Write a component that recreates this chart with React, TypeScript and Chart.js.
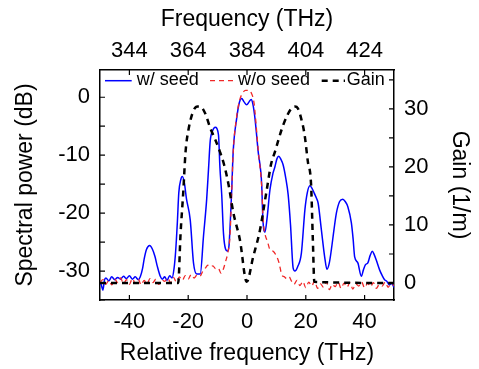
import React, { useEffect, useRef } from 'react';
import { Chart, registerables } from 'chart.js';

Chart.register(...registerables);

// ---- data ----
const seedFreq = [
  -50, -49.5, -49, -48.5, -48, -47, -46, -45, -44, -43, -42, -41, -40, -39, -38, -37, -36.3,
  -35.5, -35, -34.2, -33.1, -32.2, -31.3, -30.5, -29.5, -28.8, -28, -27.2, -26.3, -25.5, -24.8,
  -24.3, -23.7, -23.2, -22.5, -22, -21.3, -20.6, -19.3, -18.2, -17.1, -15.9, -14.8, -13.7, -13.1,
  -12.5, -11.7, -10.8, -9.7, -9.2, -8.6, -8, -7.3, -6.6, -6.1, -5.7, -5.2, -4.7, -3.5, -2.6, -1.8,
  -1.0, -0.1, 0.7, 1.4, 2.0, 2.7, 3.8, 5.0, 5.4, 6.1, 6.8, 7.8, 8.8, 9.5, 10.2, 10.8, 11.5, 12.3,
  13.2, 14.0, 14.8, 15.7, 16.3, 17.2, 18.5, 19.7, 20.5, 21.4, 22.2, 22.9, 23.6, 24.2, 25.3, 26.4,
  27.2, 28.0, 28.7, 29.6, 30.4, 31.5, 32.6, 33.4, 34.3, 35.5, 36.1, 36.6, 37.7, 38.9, 39.6, 40.3,
  41.1, 41.9, 42.6, 43.3, 43.9, 45.1, 46.0, 46.8, 47.6, 48.5, 49.2, 50,
];
const seedPower = [
  -31.8, -32.5, -33.3, -31.6, -31.2, -31.7, -31.0, -31.5, -31.1, -31.4, -30.9, -31.3, -30.8, -31.4, -31.0, -31.5, -31.0,
  -29.5, -28, -26.3, -25.6, -26.2, -27.5, -29.2, -30.9, -31.4, -31.0, -31.6, -30.8, -31.2, -29.5,
  -26.8, -21.7, -16.5, -14.2, -13.7, -14.8, -17.5, -21.2, -28.6, -30.5, -30.5, -24, -17.5, -12.5,
  -7.5, -5.8, -5.2, -6.5, -12.2, -16.8, -23.5, -26.2, -26.6, -25.5, -21.7, -16, -9.4, -3.6, -0.9, -0.2,
  -0.8, -1.3, -0.8, -0.4, -1.2, -3.6, -9.4, -15.1, -21, -23.3, -21, -16, -13.2, -12.0, -10.6, -10.2, -10.7, -11.7,
  -14, -16.8, -22, -29.5, -30, -29.3, -26.9, -19.4, -16.5, -15.3, -15.8, -16.6, -17.4, -18.3, -22.9, -27.5,
  -29.7, -28.6, -26.3, -22.8, -20, -18, -17.6, -18.0, -18.9, -21.7, -24.5, -27.5, -28.6, -30.9, -29.8, -28.9,
  -28.6, -27.3, -26.6, -27.2, -28, -29.8, -30.8, -31.5, -31.8, -32.4, -32.1, -32.8,
];

const noSeedFreq = [
  -50, -49, -48, -47, -46, -45, -44, -43, -42, -41, -40, -39, -38, -37, -36, -35, -34, -33, -32, -31,
  -30, -29, -28, -27, -26, -25, -24, -23, -22, -21, -20, -19, -18, -17, -16, -15, -14.2, -13.3, -12.5,
  -11.6, -10.7, -9.8, -8.8, -8.0, -7.2, -6.5, -5.8, -5.2, -4.7, -3.5, -2.5, -1.5, -0.5, 0.5, 1.5, 2.4,
  2.9, 3.9, 5.0, 5.5, 6.2, 6.9, 7.8, 8.9, 10.0, 10.9, 11.8, 12.7, 13.5, 14.3, 15.2, 16, 17, 18, 19, 20,
  21, 22, 23, 24, 25, 26, 27, 28, 29, 30, 31, 32, 33, 34, 35, 36, 37, 38, 39, 40, 41, 42, 43, 44, 45,
  46, 47, 48, 49, 50,
];
const noSeedPower = [
  -32.0, -31.5, -32.3, -31.6, -32.4, -31.4, -32.0, -31.2, -32.2, -31.5, -32.3, -31.3, -32.1, -31.4, -32.4, -31.6, -32.2, -31.3, -32.0, -31.4,
  -32.3, -31.5, -31.8, -31.2, -32.0, -31.1, -31.9, -31.0, -31.6, -30.8, -31.4, -30.6, -31.2, -30.7, -30.9, -30.0, -29.5, -29.0, -29.3,
  -29.1, -29.6, -29.5, -30.4, -29.6, -28.2, -26.8, -24, -16.5, -9.6, -3.3, -0.5, 0.7, 1.2, 1.2, 0.7, -1.0,
  -3.6, -9.6, -15.4, -21.2, -23.8, -24.8, -26.3, -26.6, -27.4, -28.6, -30.6, -31.0, -31.3, -31.0, -31.8, -32.3, -31.6, -32.5, -31.8, -32.9,
  -31.9, -32.6, -31.7, -33.0, -32.2, -32.8, -31.9, -33.2, -32.3, -32.7, -31.9, -33.0, -32.1, -32.8, -32.0, -33.1, -32.2, -32.6, -31.9, -32.9, -32.1, -32.7, -32.0, -33.0, -32.3,
  -32.6, -31.9, -32.8, -32.2, -32.5,
];

const gainFreq = [
  -50, -23.4, -22.6, -21.7, -20.9, -19.8, -18.1, -16.8, -15.9, -14.2, -12.5, -10.8, -9.2, -7.7, -6.3,
  -4.6, -2.4, -0.1, 2.1, 4.4, 6.7, 8.2, 9.5, 12.3, 15.1, 16.3, 17.3, 18.5, 19.6, 20.7, 21.8, 22.4, 22.9, 50,
];
const gainValues = [
  0, 0, 8.5, 15.5, 22.6, 26.7, 29.8, 30.4, 30.4, 29.2, 26.7, 24.7, 22.6, 20.2, 17.0,
  12, 7.4, 0.2, 4.5, 9.1, 16, 20.5, 22.6, 27.2, 30.1, 30.4, 30.1, 28.2, 25.5, 20.9, 16.9, 7.4, 0.2, 0,
];

const centerFreq = 384;
const relTicks = [-40, -20, 0, 20, 40];
const absTicks = [344, 364, 384, 404, 424];
const powerTicks = [-35, -30, -25, -20, -15, -10, -5, 0];
const powerLabels = [-30, -20, -10, 0];
const gainTicks = [0, 5, 10, 15, 20, 25, 30, 35];
const gainLabels = [0, 10, 20, 30];
const seriesNames = ['w/ seed', 'w/o seed', 'Gain'];

const FONT = "'Liberation Sans', Arial, Helvetica, sans-serif";
const tickFont = { family: FONT, size: 22 };
const titleFont = { family: FONT, size: 23 };

const toPoints = (xs: number[], ys: number[]) => xs.map((x, i) => ({ x, y: ys[i] }));

const inwardTicks = {
  id: 'inwardTicks',
  afterDraw(chart: any) {
    const { ctx, chartArea: a, scales: s } = chart;
    const L = 5;
    ctx.save();
    ctx.strokeStyle = '#000';
    ctx.lineWidth = 1.2;
    ctx.beginPath();
    for (const t of s.x.ticks) {
      const p = s.x.getPixelForValue(t.value);
      ctx.moveTo(p, a.bottom); ctx.lineTo(p, a.bottom - L);
    }
    for (const t of s.xTop.ticks) {
      const p = s.xTop.getPixelForValue(t.value);
      ctx.moveTo(p, a.top); ctx.lineTo(p, a.top + L);
    }
    for (const t of s.y.ticks) {
      const p = s.y.getPixelForValue(t.value);
      ctx.moveTo(a.left, p); ctx.lineTo(a.left + L, p);
    }
    for (const t of s.yGain.ticks) {
      const p = s.yGain.getPixelForValue(t.value);
      ctx.moveTo(a.right, p); ctx.lineTo(a.right - L, p);
    }
    ctx.stroke();
    ctx.restore();
  },
};

const insideLegend = {
  id: 'insideLegend',
  afterDraw(chart: any) {
    const { ctx, chartArea: a } = chart;
    const lineStarts = [5, 110, 221.7];
    const lineLens = [26.7, 26.7, 23.3];
    const textStarts = [36.7, 138, 246.7];
    ctx.save();
    ctx.font = `18px ${FONT}`;
    ctx.textBaseline = 'alphabetic';
    ctx.textAlign = 'left';
    chart.data.datasets.forEach((ds: any, i: number) => {
      const x = a.left + lineStarts[i];
      const ly = a.top + 10.7;
      ctx.strokeStyle = ds.borderColor;
      ctx.lineWidth = ds.borderWidth;
      ctx.setLineDash(ds.borderDash || []);
      ctx.beginPath();
      ctx.moveTo(x, ly);
      ctx.lineTo(x + lineLens[i], ly);
      ctx.stroke();
      ctx.setLineDash([]);
      ctx.fillStyle = '#000';
      ctx.fillText(ds.label, a.left + textStarts[i], a.top + 15);
    });
    ctx.restore();
  },
};

const axisCommon = {
  grid: { display: true, drawOnChartArea: false, drawTicks: false },
  border: { display: true, color: '#000', width: 1.5 },
};

export default function App() {
  const ref = useRef<HTMLCanvasElement>(null);
  useEffect(() => {
    const chart = new Chart(ref.current as HTMLCanvasElement, {
      type: 'line',
      data: {
        datasets: [
          {
            label: seriesNames[0],
            data: toPoints(seedFreq, seedPower),
            borderColor: '#0000ff',
            borderWidth: 1.5,
            pointRadius: 0,
            cubicInterpolationMode: 'monotone',
            xAxisID: 'x',
            yAxisID: 'y',
            order: 3,
          },
          {
            label: seriesNames[1],
            data: toPoints(noSeedFreq, noSeedPower),
            borderColor: 'rgb(240,40,40)',
            borderWidth: 1.3,
            borderDash: [5, 4],
            pointRadius: 0,
            cubicInterpolationMode: 'monotone',
            xAxisID: 'x',
            yAxisID: 'y',
            order: 2,
          },
          {
            label: seriesNames[2],
            data: toPoints(gainFreq, gainValues),
            borderColor: '#000000',
            borderWidth: 2.5,
            borderDash: [6, 5],
            pointRadius: 0,
            cubicInterpolationMode: 'monotone',
            xAxisID: 'x',
            yAxisID: 'yGain',
            order: 1,
          },
        ] as any,
      },
      options: {
        animation: false,
        responsive: false,
        maintainAspectRatio: false,
        layout: { padding: 0 },
        plugins: { legend: { display: false }, tooltip: { enabled: false } },
        scales: {
          x: {
            type: 'linear',
            position: 'bottom',
            min: -50,
            max: 50,
            ...axisCommon,
            afterBuildTicks: (s: any) => { s.ticks = relTicks.map((v) => ({ value: v })); },
            afterFit: (s: any) => { s.height = 69; },
            ticks: { font: tickFont, color: '#000', padding: 9, maxRotation: 0, autoSkip: false, callback: (v: any) => String(v) },
            title: { display: true, text: 'Relative frequency (THz)', font: titleFont, color: '#000', padding: { top: 0, bottom: 2 } },
          },
          xTop: {
            type: 'linear',
            position: 'top',
            min: centerFreq - 50,
            max: centerFreq + 50,
            ...axisCommon,
            afterBuildTicks: (s: any) => { s.ticks = absTicks.map((v) => ({ value: v })); },
            afterFit: (s: any) => { s.height = 70; },
            ticks: { font: tickFont, color: '#000', padding: 6, maxRotation: 0, autoSkip: false, callback: (v: any) => String(v) },
            title: { display: true, text: 'Frequency (THz)', font: titleFont, color: '#000', padding: { top: 6, bottom: 0 } },
          },
          y: {
            type: 'linear',
            position: 'left',
            min: -35,
            max: 4.7,
            ...axisCommon,
            afterBuildTicks: (s: any) => { s.ticks = powerTicks.map((v) => ({ value: v })); },
            afterFit: (s: any) => { s.width = 100; },
            ticks: { font: tickFont, color: '#000', padding: 10, autoSkip: false, callback: (v: any) => (powerLabels.includes(v) ? String(v) : '') },
            title: { display: true, text: 'Spectral power (dB)', font: titleFont, color: '#000', padding: { top: 12, bottom: 0 } },
          },
          yGain: {
            type: 'linear',
            position: 'right',
            min: -2.93,
            max: 36.7,
            ...axisCommon,
            afterBuildTicks: (s: any) => { s.ticks = gainTicks.map((v) => ({ value: v })); },
            afterFit: (s: any) => { s.width = 85; },
            ticks: { font: tickFont, color: '#000', padding: 10, autoSkip: false, callback: (v: any) => (gainLabels.includes(v) ? String(v) : '') },
            title: { display: true, text: 'Gain (1/m)', font: titleFont, color: '#000', padding: { top: 6, bottom: 0 } },
          },
        },
      } as any,
      plugins: [inwardTicks, insideLegend],
    });
    return () => chart.destroy();
  }, []);
  return (
    <div style={{ position: 'fixed', left: 0, top: 0, width: 479, height: 369, background: '#fff' }}>
      <canvas ref={ref} width={479} height={369} style={{ display: 'block', width: '479px', height: '369px' }} />
    </div>
  );
}
